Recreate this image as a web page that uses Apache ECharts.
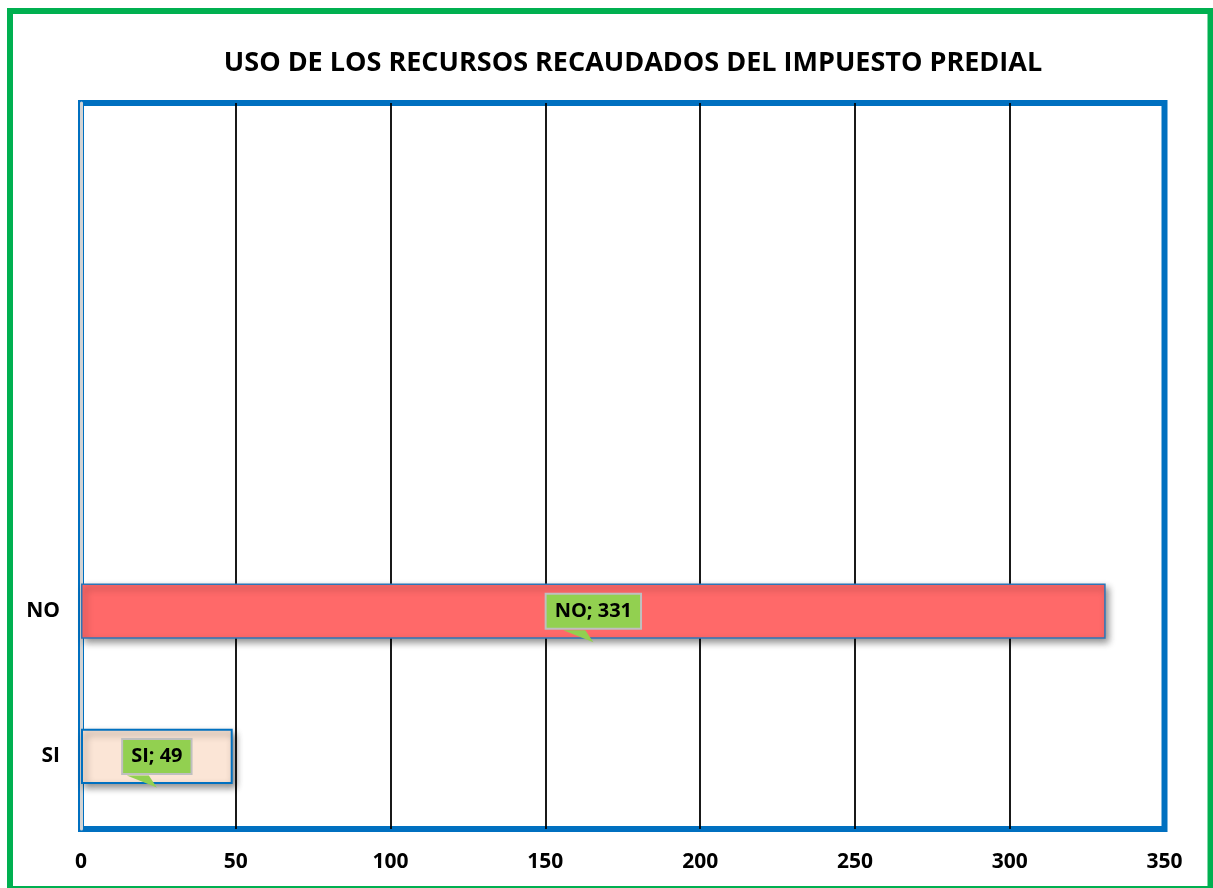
<!DOCTYPE html>
<html>
<head>
<meta charset="utf-8">
<script src="https://cdn.jsdelivr.net/npm/echarts@6/dist/echarts.min.js"></script>
<style>
html,body{margin:0;padding:0;background:#fff;}
#chart{width:1213px;height:888px;}
</style>
</head>
<body>
<div id="chart"></div>
<script>
const titleText = 'USO DE LOS RECURSOS RECAUDADOS DEL IMPUESTO PREDIAL';
const categories = ['SI', 'NO', '', '', ''];
const values = [49, 331, null, null, null];
const barColors = ['#FBE5D6', '#FF6969', '#FFFFFF', '#FFFFFF', '#FFFFFF'];
const barBorders = ['#0070C0', '#2E75B6', '#0070C0', '#0070C0', '#0070C0'];
const xMin = 0, xMax = 350, xStep = 50;

const FONT = '"Open Sans", "DejaVu Sans", sans-serif';
const chart = echarts.init(document.getElementById('chart'), null, {renderer: 'canvas'});

const data = values.map((v, i) => ({
  value: v,
  itemStyle: {
    color: barColors[i],
    borderColor: barBorders[i],
    borderWidth: i === 0 ? 2 : 1.5,
    shadowColor: 'rgba(0,0,0,0.45)',
    shadowBlur: 7,
    shadowOffsetX: 3,
    shadowOffsetY: 4
  }
}));

// callout pointers under each data label, anchored at bar centres
const pointers = values
  .map((v, i) => v == null ? null : {coord: [v / 2, categories[i]]})
  .filter(Boolean);

chart.setOption({
  animation: false,
  backgroundColor: '#ffffff',
  title: {
    text: titleText,
    left: 628,
    textAlign: 'center',
    top: 45,
    textStyle: {fontFamily: FONT, fontWeight: 'bold', fontSize: 27, color: '#000'}
  },
  graphic: [{
    type: 'rect',
    shape: {x: 10, y: 11, width: 1200.5, height: 878},
    style: {fill: 'none', stroke: '#00B050', lineWidth: 6},
    z: 100
  }],
  grid: {
    left: 81, right: 48.5, top: 103, bottom: 59,
    show: true, borderColor: '#0070C0', borderWidth: 6, backgroundColor: 'transparent'
  },
  xAxis: {
    type: 'value', min: xMin, max: xMax, interval: xStep,
    axisLine: {show: false}, axisTick: {show: false},
    axisLabel: {margin: 23, fontFamily: FONT, fontWeight: 'bold', fontSize: 21, color: '#000'},
    splitLine: {show: true, showMinLine: false, showMaxLine: false, lineStyle: {color: '#000', width: 1.8}}
  },
  yAxis: {
    type: 'category', data: categories,
    axisLine: {show: true, lineStyle: {color: '#D3D3D3', width: 3}},
    axisTick: {show: false},
    axisLabel: {margin: 21, fontFamily: FONT, fontWeight: 'bold', fontSize: 21, color: '#000'},
    splitLine: {show: false}
  },
  series: [{
    type: 'bar',
    data: data,
    barWidth: '38%',
    z: 3,
    label: {
      show: true,
      position: 'inside',
      formatter: p => p.value == null ? '' : p.name + '; ' + p.value,
      fontFamily: FONT, fontWeight: 'bold', fontSize: 20, color: '#000',
      backgroundColor: '#92D050', borderColor: '#BFBFBF', borderWidth: 2,
      padding: [7, 8, 6, 8]
    },
    markPoint: {
      silent: true,
      symbol: 'path://M0,0 L22,0 L30,12 Z',
      symbolSize: [30, 12],
      symbolKeepAspect: false,
      symbolOffset: [-15, 25],
      itemStyle: {color: '#92D050', borderWidth: 0, shadowBlur: 0},
      label: {show: false},
      data: pointers
    }
  }]
});
</script>
</body>
</html>
